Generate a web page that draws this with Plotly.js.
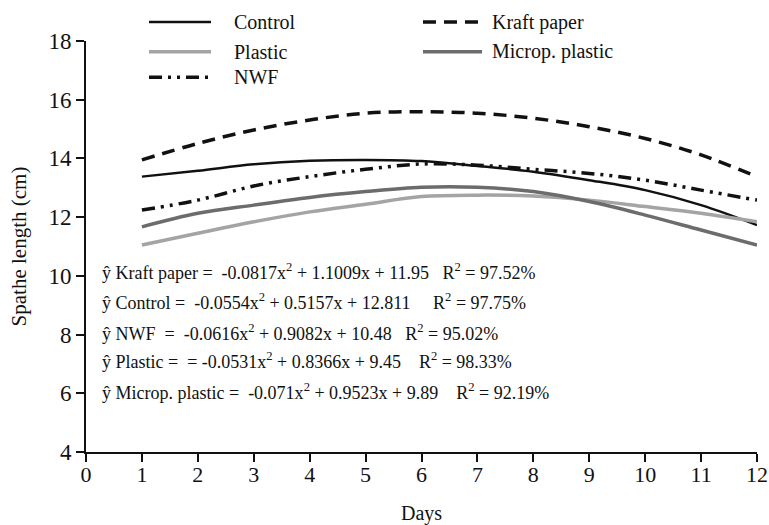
<!DOCTYPE html>
<html>
<head>
<meta charset="utf-8">
<script src="https://cdn.plot.ly/plotly-3.0.1.min.js"></script>
<style>html,body{margin:0;padding:0;background:#fff;}#chart{width:769px;height:525px;}</style>
</head>
<body>
<div id="chart"></div>
<script>
const days = [1,2,3,4,5,6,7,8,9,10,11,12];
const control = [13.38,13.58,13.80,13.92,13.95,13.91,13.74,13.55,13.26,12.92,12.41,11.73];
const kraft = [13.95,14.51,14.97,15.31,15.54,15.59,15.54,15.37,15.08,14.68,14.12,13.38];
const plastic = [11.05,11.45,11.84,12.18,12.44,12.70,12.75,12.72,12.58,12.36,12.13,11.84];
const microp = [11.67,12.13,12.41,12.67,12.87,13.02,13.02,12.87,12.53,12.07,11.56,11.05];
const nwf = [12.24,12.58,13.06,13.38,13.63,13.81,13.77,13.63,13.49,13.26,12.92,12.58];
const seriesNames = ['Control','Kraft paper','Plastic','Microp. plastic','NWF'];
const xTicks = [0,1,2,3,4,5,6,7,8,9,10,11,12];
const yTicks = [4,6,8,10,12,14,16,18];
const equations = [
  "ŷ Kraft paper =  -0.0817x<sup>2</sup> + 1.1009x + 11.95   R<sup>2</sup> = 97.52%",
  "ŷ Control =  -0.0554x<sup>2</sup> + 0.5157x + 12.811     R<sup>2</sup> = 97.75%",
  "ŷ NWF  =  -0.0616x<sup>2</sup> + 0.9082x + 10.48   R<sup>2</sup> = 95.02%",
  "ŷ Plastic =  = -0.0531x<sup>2</sup> + 0.8366x + 9.45    R<sup>2</sup> = 98.33%",
  "ŷ Microp. plastic =  -0.071x<sup>2</sup> + 0.9523x + 9.89    R<sup>2</sup> = 92.19%"
];

const font = "Liberation Serif";
const styles = [
  {color: '#111', width: 2.5},
  {color: '#111', width: 3.5, dash: '13px,8px'},
  {color: '#a4a4a4', width: 3.5},
  {color: '#6c6c6c', width: 3.5},
  {color: '#111', width: 3.5, dash: '13px,6px,3px,6px,3px,6px'}
];
const values = [control, kraft, plastic, microp, nwf];
const data = values.map((v, i) => ({
  x: days, y: v, name: seriesNames[i], mode: 'lines', type: 'scatter', showlegend: false,
  line: Object.assign({shape: 'spline', smoothing: 1}, styles[i])
}));

// legend drawn as a two-column key above the plot
const legPos = [
  {x0: 0.0939, x1: 0.1863, tx: 0.2176, y: 1.046},
  {x0: 0.5022, x1: 0.5902, tx: 0.6021, y: 1.046},
  {x0: 0.0939, x1: 0.1863, tx: 0.2176, y: 0.974},
  {x0: 0.5022, x1: 0.5902, tx: 0.6021, y: 0.974},
  {x0: 0.0939, x1: 0.1863, tx: 0.2176, y: 0.912}
];
const shapes = legPos.map((p, i) => ({
  type: 'line', xref: 'paper', yref: 'paper', x0: p.x0, x1: p.x1, y0: p.y, y1: p.y,
  line: Object.assign({}, styles[i])
}));
const annotations = legPos.map((p, i) => ({
  xref: 'paper', yref: 'paper', x: p.tx, y: p.y, xanchor: 'left', yanchor: 'middle',
  text: seriesNames[i], showarrow: false, font: {family: font, size: 20, color: '#111'}
}));
const eqY = [0.438, 0.366, 0.291, 0.222, 0.146];
equations.forEach((t, i) => annotations.push({
  xref: 'paper', yref: 'paper', x: 0.021, y: eqY[i], xanchor: 'left', yanchor: 'middle',
  text: t, showarrow: false, font: {family: font, size: 18, color: '#111'}
}));

const layout = {
  width: 769, height: 525,
  margin: {l: 86, r: 12, t: 41, b: 73},
  paper_bgcolor: '#fff', plot_bgcolor: '#fff',
  font: {family: font, color: '#111', size: 20},
  showlegend: false,
  xaxis: {range: [0, 12], tickvals: xTicks, ticktext: xTicks.map(String),
          showgrid: false, zeroline: false, showline: true, linecolor: '#111', linewidth: 2,
          ticks: 'outside', ticklen: 8, tickwidth: 2, tickcolor: '#111',
          tickfont: {family: font, size: 22}, ticklabelstandoff: -6, fixedrange: true,
          title: {text: 'Days', font: {family: font, size: 20}, standoff: 22}},
  yaxis: {range: [4, 18], tickvals: yTicks, ticktext: yTicks.map(String),
          showgrid: false, zeroline: false, showline: true, linecolor: '#111', linewidth: 2,
          ticks: 'outside', ticklen: 8, tickwidth: 2, tickcolor: '#111',
          tickfont: {family: font, size: 23}, fixedrange: true,
          title: {text: 'Spathe length (cm)', font: {family: font, size: 21}, standoff: 16}},
  shapes: shapes,
  annotations: annotations
};
Plotly.newPlot('chart', data, layout, {displayModeBar: false, staticPlot: true});
</script>
</body>
</html>
